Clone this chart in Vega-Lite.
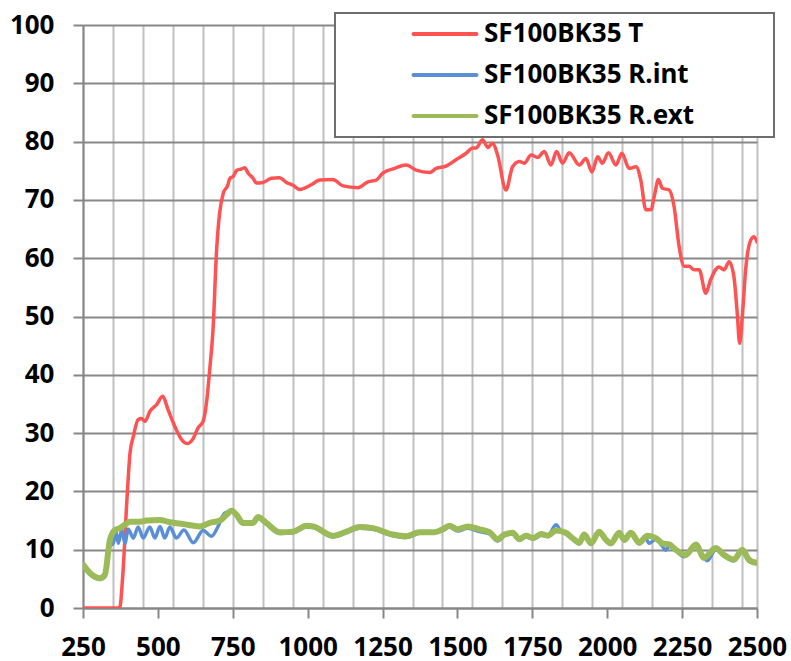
{
  "$schema": "https://vega.github.io/schema/vega-lite/v6.json",
  "width": 674,
  "height": 583,
  "autosize": {"type": "none"},
  "padding": {"left": 83, "top": 25, "right": 34, "bottom": 53},
  "background": "white",
  "config": {
    "view": {"stroke": null},
    "font": "Noto Sans"
  },
  "datasets": {
    "T": [
      [250,0],[300,0],[350,0],[372,0],[384,6.6],[396,18],[407,26.6],[418,29.4],[434,32.3],[445,32.5],[457,32],[473,33.7],[496,34.9],[516,36.3],[534,34],[557,31.1],[579,28.9],[598,28.2],[618,29.1],[634,30.9],[651,32],[662,35.1],[673,40.9],[684,47.7],[696,61.4],[706,67.7],[718,71.1],[734,72.6],[740,73.7],[751,74],[764,75.1],[779,75.3],[790,75.5],[801,74.6],[818,73.7],[829,72.9],[851,73],[879,73.7],[906,73.8],[929,73],[951,72.5],[973,71.8],[1012,72.6],[1040,73.4],[1084,73.5],[1118,72.4],[1168,72.1],[1201,73.1],[1229,73.4],[1251,74.6],[1290,75.4],[1329,76],[1362,75.1],[1407,74.7],[1429,75.4],[1462,75.8],[1495,76.9],[1529,78],[1551,78.9],[1562,78.9],[1584,80.3],[1601,79],[1618,79.7],[1634,77.7],[1662,71.7],[1684,75.7],[1707,76.6],[1723,76.3],[1746,77.7],[1768,77.3],[1790,78.3],[1812,76],[1831,78.3],[1851,76.3],[1873,78.1],[1907,76],[1929,77.1],[1949,74.8],[1968,77.4],[1984,76.3],[2004,78.1],[2029,76],[2049,78],[2073,75.4],[2096,75.7],[2112,73.4],[2129,68.3],[2146,68.3],[2157,70.6],[2171,73.5],[2184,72],[2207,71.7],[2223,68.9],[2240,62],[2257,58.6],[2273,58.6],[2290,58],[2307,58],[2329,54],[2345,56.3],[2373,58.5],[2390,58],[2407,59.4],[2423,56.8],[2434,50.6],[2442,45.4],[2451,50],[2462,58],[2479,63.1],[2490,63.7],[2500,62.8]
    ],
    "Rint": [
      [251,7.1],[273,5.8],[307,4.9],[323,5.4],[340,10.6],[351,11.1],[360,13.1],[368,11.1],[379,13.4],[390,11.1],[401,13.5],[418,12],[434,13.9],[451,12],[473,13.9],[490,12],[507,14],[523,12],[540,13.9],[562,12],[587,13.4],[618,11.2],[651,13.3],[679,12.3],[701,14],[723,16.3],[746,16.6],[762,15.8],[784,14.4],[818,14.5],[834,15.4],[862,14.4],[907,12.8],[951,12.9],[996,13.9],[1018,13.8],[1084,12.2],[1129,12.9],[1173,13.7],[1218,13.5],[1284,12.4],[1329,12.1],[1373,12.8],[1423,12.9],[1451,13.3],[1473,13.9],[1501,13.2],[1534,13.7],[1573,13.1],[1607,12.7],[1634,11.5],[1657,12.4],[1684,12.7],[1707,11.6],[1729,12.2],[1753,11.8],[1779,12.5],[1801,12.3],[1829,14.3],[1845,13.2],[1862,12.7],[1884,11.8],[1907,11],[1923,12.4],[1946,10.9],[1973,12.9],[1996,11.5],[2012,10.9],[2040,12.7],[2057,11.5],[2079,12.7],[2107,11],[2125,12.2],[2140,11.1],[2162,11.8],[2184,10.6],[2195,9.9],[2207,10.6],[2229,9.8],[2257,8.8],[2296,10.5],[2334,8.1],[2362,10],[2390,8.9],[2423,8.1],[2451,9.7],[2473,8],[2500,7.6]
    ],
    "Rext": [
      [251,7.4],[273,6],[307,5.1],[323,5.7],[340,11.7],[357,13.4],[373,13.7],[390,14.3],[407,14.8],[440,14.8],[462,15],[507,15.1],[540,14.7],[584,14.4],[640,14],[673,14.6],[707,15],[729,16],[746,16.7],[762,16],[784,14.6],[818,14.6],[834,15.6],[862,14.6],[907,13],[951,13.1],[996,14.1],[1018,14],[1084,12.4],[1129,13.1],[1173,13.9],[1218,13.7],[1284,12.6],[1329,12.3],[1373,13],[1423,13],[1451,13.5],[1473,14.1],[1501,13.5],[1534,14],[1573,13.5],[1607,13],[1634,11.8],[1657,12.6],[1684,12.9],[1707,11.8],[1729,12.4],[1753,12],[1779,12.7],[1801,12.4],[1829,13.3],[1862,12.9],[1884,12],[1907,11.2],[1923,12.6],[1946,11.1],[1973,13.1],[1996,11.7],[2012,11.1],[2040,12.9],[2057,11.7],[2079,12.9],[2107,11.2],[2134,12.4],[2162,12],[2184,11.1],[2207,10.9],[2229,10],[2262,9.1],[2296,10.9],[2323,8.6],[2362,10.3],[2390,9.1],[2423,8.3],[2451,10],[2473,8.3],[2496,7.8],[2500,7.8]
    ]
  },
  "layer": [
    {
      "data": {"name": "T"},
      "transform": [
        {"calculate": "datum[0]", "as": "wl"},
        {"calculate": "datum[1]", "as": "v"},
        {"calculate": "'SF100BK35 T'", "as": "s"}
      ],
      "mark": {"type": "line", "strokeWidth": 3.5, "strokeJoin": "round", "strokeCap": "round", "interpolate": "monotone", "clip": true},
      "encoding": {
        "x": {
          "field": "wl", "type": "quantitative",
          "scale": {"domain": [250, 2500], "nice": false, "zero": false},
          "axis": {
            "title": null,
            "values": [250,300,350,400,450,500,550,600,650,700,750,800,850,900,950,1000,1050,1100,1150,1200,1250,1300,1350,1400,1450,1500,1550,1600,1650,1700,1750,1800,1850,1900,1950,2000,2050,2100,2150,2200,2250,2300,2350,2400,2450,2500],
            "tickCount": 100,
            "format": "d",
            "labelExpr": "datum.value % 250 == 0 ? datum.label : ''",
            "labelOverlap": false,
            "labelFlush": false,
            "labelBound": false,
            "labelFont": "Noto Sans",
            "labelFontSize": 26,
            "labelFontWeight": "bold",
            "labelColor": "#000000",
            "labelPadding": 16,
            "tickSize": 10,
            "tickWidth": 2,
            "tickColor": "#878787",
            "tickOpacity": {"condition": {"test": "datum.value % 250 == 0", "value": 1}, "value": 0},
            "domainColor": "#878787",
            "domainWidth": 2,
            "grid": true,
            "gridColor": "#c0c0c0",
            "gridWidth": 2,
            "gridOpacity": {"condition": {"test": "(datum.value - 250) % 100 == 0 || datum.value == 2500", "value": 1}, "value": 0}
          }
        },
        "y": {
          "field": "v", "type": "quantitative",
          "scale": {"domain": [0, 100], "nice": false},
          "axis": {
            "title": null,
            "values": [0,10,20,30,40,50,60,70,80,90,100],
            "tickCount": 20,
            "labelFont": "Noto Sans",
            "labelFontSize": 26,
            "labelFontWeight": "bold",
            "labelColor": "#000000",
            "labelPadding": 19,
            "tickSize": 10,
            "tickWidth": 2,
            "tickColor": "#878787",
            "domainColor": "#878787",
            "domainWidth": 2,
            "grid": true,
            "gridColor": "#888888",
            "gridWidth": 2
          }
        },
        "color": {
          "field": "s", "type": "nominal",
          "scale": {"domain": ["SF100BK35 T", "SF100BK35 R.int", "SF100BK35 R.ext"], "range": ["#ff5252", "#5a8fd7", "#9bbb59"]},
          "legend": {
            "title": " ",
            "titleOrient": "right",
            "titlePadding": 72,
            "titleFontSize": 10,
            "orient": "none",
            "legendX": 252,
            "legendY": -12,
            "padding": 8,
            "fillColor": "white",
            "strokeColor": "#6e6e6e",
            "symbolType": "M-3,0L3,0",
            "symbolSize": 441,
            "symbolStrokeWidth": 4,
            "symbolFillColor": "transparent",
            "symbolOffset": 89,
            "labelOffset": 26,
            "labelFont": "Noto Sans",
            "labelFontSize": 26,
            "labelFontWeight": "bold",
            "labelColor": "#000000",
            "labelLimit": 400,
            "rowPadding": 15,
            "encode": {
              "legend": {"update": {"strokeWidth": {"value": 2}}},
              "symbols": {"update": {"strokeCap": {"value": "round"}, "fill": {"value": "transparent"}}}
            }
          }
        }
      }
    },
    {
      "data": {"name": "Rint"},
      "transform": [
        {"calculate": "datum[0]", "as": "wl"},
        {"calculate": "datum[1]", "as": "v"},
        {"calculate": "'SF100BK35 R.int'", "as": "s"}
      ],
      "mark": {"type": "line", "strokeWidth": 3.5, "strokeJoin": "round", "strokeCap": "round", "interpolate": "monotone", "clip": true},
      "encoding": {
        "x": {"field": "wl", "type": "quantitative"},
        "y": {"field": "v", "type": "quantitative"},
        "color": {"field": "s", "type": "nominal"}
      }
    },
    {
      "data": {"name": "Rext"},
      "transform": [
        {"calculate": "datum[0]", "as": "wl"},
        {"calculate": "datum[1]", "as": "v"},
        {"calculate": "'SF100BK35 R.ext'", "as": "s"}
      ],
      "mark": {"type": "line", "strokeWidth": 6, "strokeJoin": "round", "strokeCap": "round", "interpolate": "monotone", "clip": true},
      "encoding": {
        "x": {"field": "wl", "type": "quantitative"},
        "y": {"field": "v", "type": "quantitative"},
        "color": {"field": "s", "type": "nominal"}
      }
    }
  ]
}
